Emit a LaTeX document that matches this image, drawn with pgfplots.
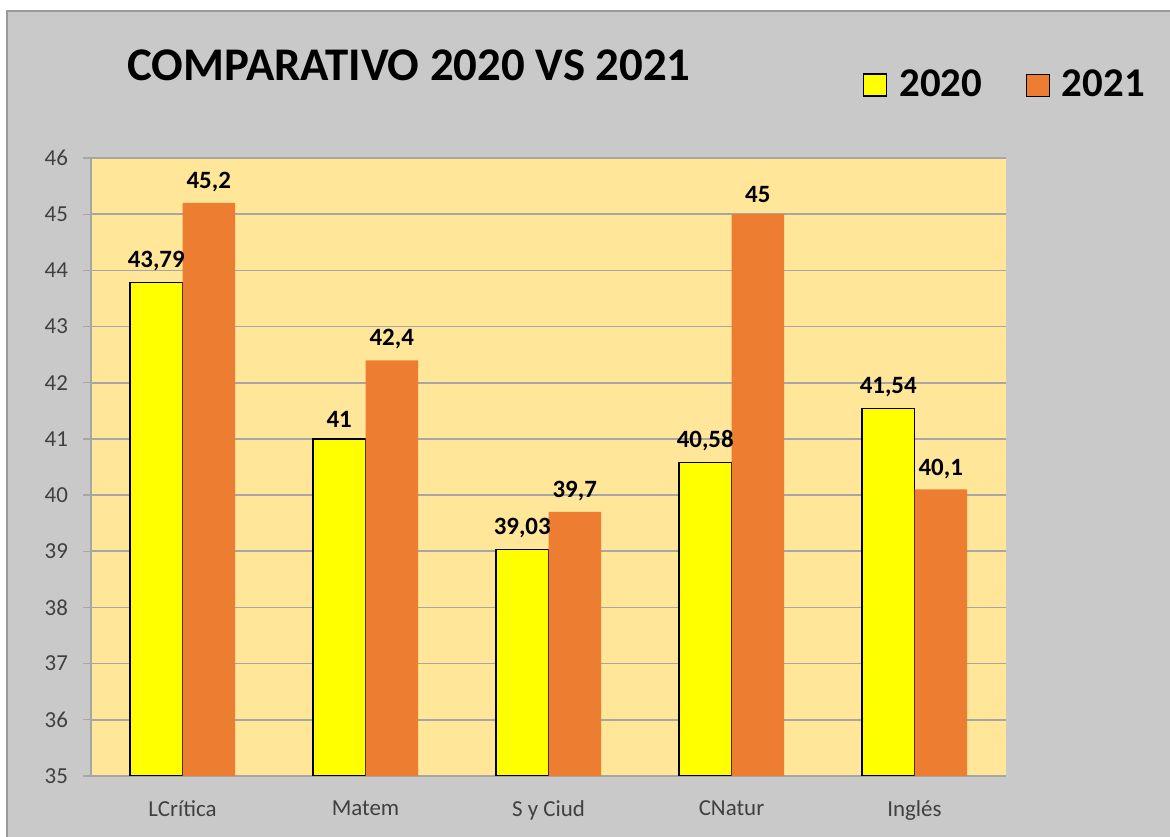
\documentclass[border=0pt]{standalone}
\usepackage{pgfplots}
\pgfplotsset{compat=1.18}
\usepackage{fontspec}
\setmainfont{Carlito}
\definecolor{bggray}{HTML}{C9C9C9}
\definecolor{plotbg}{HTML}{FFE699}
\definecolor{yel}{HTML}{FFFF00}
\definecolor{ora}{HTML}{ED7D31}
\definecolor{gridc}{HTML}{A6A6A6}
\definecolor{txt}{HTML}{404040}
\begin{document}
\begin{tikzpicture}
\useasboundingbox (0,0) rectangle (585bp,418.5bp);
\fill[white] (0,0) rectangle (585bp,418.5bp);
\fill[bggray] (3.5bp,0) rectangle (585bp,413bp);
\draw[gray!80, line width=0.6bp] (3.5bp,0) -- (3.5bp,413bp) -- (585bp,413bp);
\node[font=\bfseries\fontsize{23.5}{28}\selectfont, anchor=center] at (204.5bp,386bp) {COMPARATIVO 2020 VS 2021};
\begin{axis}[
  at={(45.5bp,30.5bp)}, anchor=south west,
  scale only axis, width=457.5bp, height=309bp,
  xmin=-0.5, xmax=4.5, ymin=35, ymax=46,
  ytick distance=1,
  xtick={0,1,2,3,4},
  xticklabels={LCrítica,Matem,S y Ciud,CNatur,Inglés},
  extra x ticks={-0.5,0.5,1.5,2.5,3.5,4.5},
  extra x tick labels={},
  extra x tick style={major tick length=4bp, tick pos=bottom, tick style={gridc, line width=0.6bp}},
  major x tick style={draw=none},
  axis background/.style={fill=plotbg},
  axis lines*=left,
  axis line style={gridc, line width=0.6bp},
  tick align=outside,
  major tick length=4bp,
  tick style={gridc, line width=0.6bp},
  ymajorgrids, grid style={gridc, line width=0.8bp},
  /pgf/number format/assume math mode=true,
  ticklabel style={font=\fontsize{11.5}{13}\selectfont, text=txt},
  yticklabel style={xshift=-4bp},
  xticklabel style={yshift=-5bp},
  ybar, bar width=0.287,
  nodes near coords,
  nodes near coords style={font=\bfseries\fontsize{12.5}{14}\selectfont, text=black, yshift=2bp},
  point meta=explicit symbolic,
  legend columns=2,
  legend style={draw=none, fill=none, at={(1.0,1.118)}, anchor=center,
    font=\bfseries\fontsize{20.5}{24}\selectfont,
    /tikz/every odd column/.append style={column sep=4bp},
    /tikz/every even column/.append style={column sep=20bp}},
  legend image code/.code={\draw[#1] (0bp,-5.5bp) rectangle (11.5bp,5.5bp);},
]
\addplot[fill=yel, draw=black, line width=0.6bp, bar shift=-0.1435] coordinates {(0,43.79)[43,79] (1,41)[41] (2,39.03)[39,03] (3,40.58)[40,58] (4,41.54)[41,54]};
\addplot[fill=ora, draw=none, bar shift=0.1435] coordinates {(0,45.2)[45,2] (1,42.4)[42,4] (2,39.7)[39,7] (3,45)[45] (4,40.1)[40,1]};
\legend{2020,2021}
\end{axis}
\end{tikzpicture}
\end{document}
